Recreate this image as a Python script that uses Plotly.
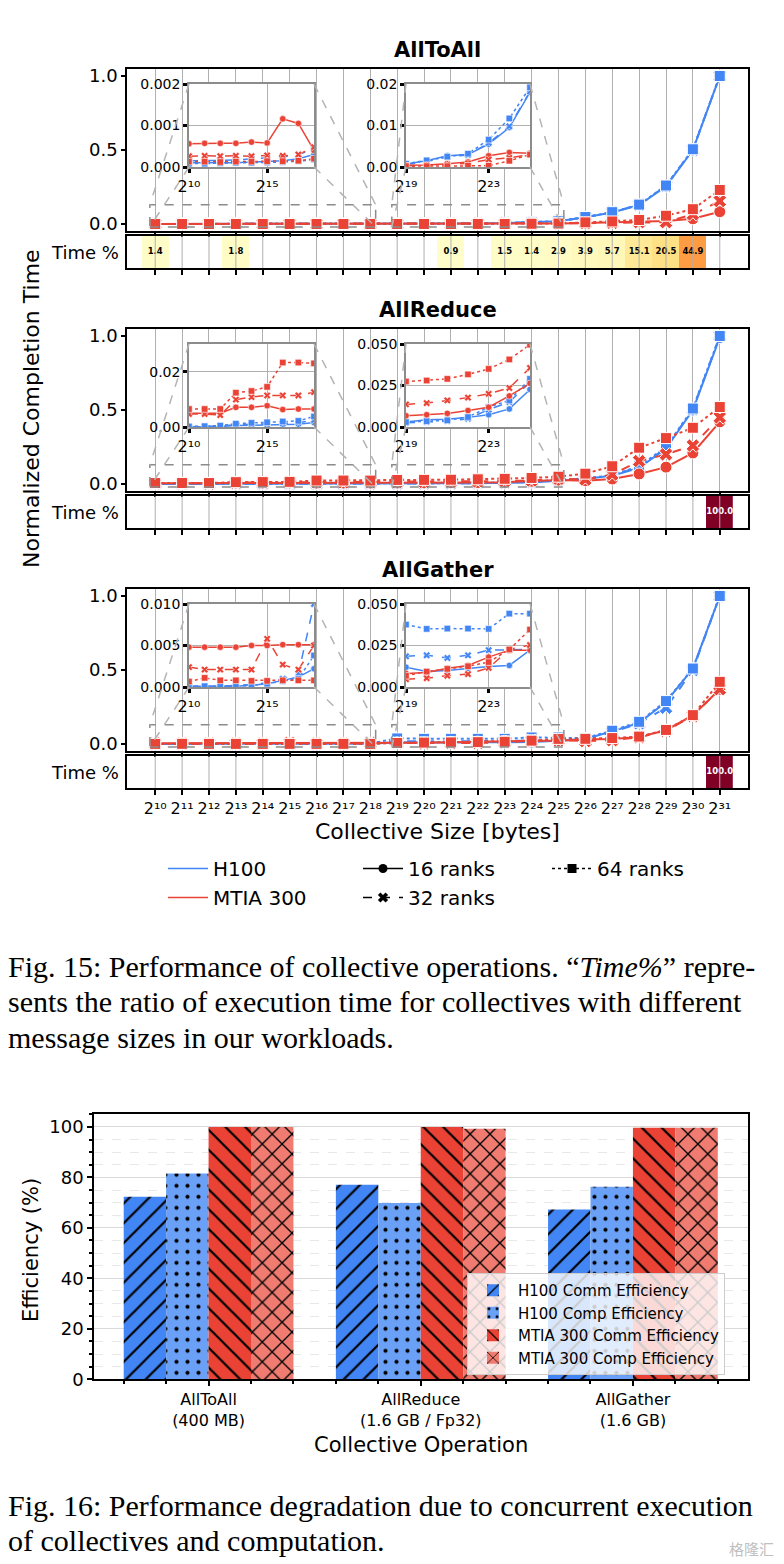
import plotly.graph_objects as go

W, H = 784, 1564
OFF = 8  # the page body adds an 8px margin around the figure
BLUE = "#4285F4"
RED = "#EA4335"
FONT = "DejaVu Sans"
SERIF = "Liberation Serif"

# collective sizes, as powers of two (2^10 .. 2^31)
sizes = [10, 11, 12, 13, 14, 15, 16, 17, 18, 19, 20, 21, 22, 23, 24, 25, 26, 27, 28, 29, 30, 31]
SUP = str.maketrans("0123456789", "⁰¹²³⁴⁵⁶⁷⁸⁹")


def pow2(e):
    return "2" + str(e).translate(SUP)


size_labels = [pow2(s) for s in sizes]

# AllToAll, normalized completion time
a2a_h100_16 = [0.0001, 0.0001, 0.0001, 0.0001, 0.00012, 0.00013, 0.00015, 0.0002, 0.0003, 0.0007, 0.0015,
               0.0027, 0.003, 0.0055, 0.0095, 0.018, 0.045, 0.078, 0.128, 0.255, 0.50, 1.0]
a2a_h100_32 = [0.00015, 0.00015, 0.00016, 0.00017, 0.0002, 0.00022, 0.00025, 0.0003, 0.00044, 0.0006, 0.0013,
               0.0024, 0.0029, 0.0058, 0.0098, 0.0182, 0.046, 0.079, 0.13, 0.258, 0.502, 1.0]
a2a_h100_64 = [0.00008, 0.00008, 0.00009, 0.0001, 0.0001, 0.00011, 0.00012, 0.00014, 0.00018, 0.0008, 0.0016,
               0.0025, 0.0032, 0.0066, 0.0117, 0.0192, 0.047, 0.08, 0.131, 0.26, 0.505, 1.0]
a2a_mtia_16 = [0.00056, 0.00057, 0.00057, 0.00057, 0.0006, 0.00058, 0.00116, 0.00105, 0.0004, 0.0004, 0.0005,
               0.0008, 0.0012, 0.0027, 0.0035, 0.0033, 0.006, 0.01, 0.015, 0.02, 0.035, 0.083]
a2a_mtia_32 = [0.00026, 0.00027, 0.00026, 0.00027, 0.00026, 0.00028, 0.00027, 0.0003, 0.00048, 0.0003, 0.0004,
               0.0006, 0.0009, 0.0018, 0.0022, 0.003, 0.005, 0.008, 0.012, 0.012, 0.065, 0.155]
a2a_mtia_64 = [0.00013, 0.00013, 0.00012, 0.00013, 0.00013, 0.00014, 0.00014, 0.00015, 0.0002, 0.0002, 0.0002,
               0.0002, 0.0003, 0.0003, 0.0015, 0.003, 0.011, 0.017, 0.027, 0.056, 0.10, 0.23]
a2a_time = [1.4, 0, 0, 1.8, 0, 0, 0, 0, 0, 0, 0, 0.9, 0, 1.5, 1.4, 2.9, 3.9, 5.7, 15.1, 20.5, 44.9, 0]

# AllReduce
ar_h100_16 = [0.0001, 0.0001, 0.0002, 0.0005, 0.0006, 0.0007, 0.0009, 0.001, 0.0016, 0.003, 0.0043,
              0.0047, 0.0058, 0.0074, 0.0109, 0.0226, 0.035, 0.055, 0.11, 0.24, 0.50, 0.99]
ar_h100_32 = [0.0001, 0.0002, 0.0004, 0.0008, 0.001, 0.0011, 0.0013, 0.0015, 0.0025, 0.0025, 0.003,
              0.0035, 0.005, 0.0105, 0.015, 0.027, 0.036, 0.058, 0.115, 0.245, 0.505, 1.0]
ar_h100_64 = [0.0002, 0.0003, 0.0005, 0.0012, 0.0015, 0.0017, 0.002, 0.0022, 0.0038, 0.003, 0.0035,
              0.004, 0.006, 0.012, 0.016, 0.029, 0.037, 0.06, 0.12, 0.25, 0.51, 1.0]
ar_mtia_16 = [0.005, 0.005, 0.005, 0.0071, 0.0071, 0.0077, 0.0063, 0.0065, 0.0065, 0.0068, 0.0074,
              0.0082, 0.0099, 0.0119, 0.0187, 0.0263, 0.022, 0.034, 0.068, 0.114, 0.21, 0.42]
ar_mtia_32 = [0.0047, 0.0047, 0.0043, 0.0099, 0.0108, 0.0114, 0.0114, 0.0114, 0.0126, 0.0136, 0.0144,
              0.016, 0.0177, 0.02, 0.0235, 0.0356, 0.03, 0.064, 0.155, 0.2, 0.26, 0.45]
ar_mtia_64 = [0.0065, 0.0065, 0.0065, 0.0124, 0.013, 0.0145, 0.0233, 0.0233, 0.023, 0.0274, 0.028,
              0.029, 0.0317, 0.035, 0.0407, 0.0496, 0.07, 0.12, 0.245, 0.31, 0.38, 0.52]
ar_time = [0, 0, 0, 0, 0, 0, 0, 0, 0, 0, 0, 0, 0, 0, 0, 0, 0, 0, 0, 0, 0, 100.0]

# AllGather
ag_h100_16 = [0.0001, 0.0001, 0.0001, 0.0001, 0.0002, 0.0004, 0.0008, 0.0012, 0.0022, 0.0119, 0.0093,
              0.0099, 0.0113, 0.0123, 0.013, 0.0222, 0.034, 0.086, 0.143, 0.284, 0.51, 1.0]
ag_h100_32 = [0.0001, 0.0001, 0.0001, 0.0002, 0.0003, 0.0005, 0.001, 0.0016, 0.01, 0.0185, 0.0191,
              0.0175, 0.0191, 0.0222, 0.0222, 0.0226, 0.033, 0.08, 0.14, 0.245, 0.50, 1.0]
ag_h100_64 = [0.0001, 0.0001, 0.0001, 0.0001, 0.0002, 0.0004, 0.0007, 0.001, 0.0038, 0.0376, 0.035,
              0.0352, 0.0352, 0.035, 0.0442, 0.0442, 0.04, 0.09, 0.15, 0.29, 0.51, 1.0]
ag_mtia_16 = [0.0048, 0.0048, 0.0048, 0.0048, 0.005, 0.005, 0.0051, 0.0051, 0.0051, 0.0082, 0.0088,
              0.0113, 0.013, 0.018, 0.0222, 0.0222, 0.03, 0.034, 0.048, 0.093, 0.193, 0.37]
ag_mtia_32 = [0.0024, 0.0021, 0.0021, 0.0021, 0.0021, 0.0058, 0.0027, 0.0021, 0.005, 0.0047, 0.0053,
              0.0068, 0.0078, 0.0115, 0.0226, 0.0253, 0.02, 0.025, 0.045, 0.09, 0.19, 0.37]
ag_mtia_64 = [0.00066, 0.0011, 0.0008, 0.0008, 0.00074, 0.00074, 0.0008, 0.0008, 0.0008, 0.0068, 0.0093,
              0.0109, 0.0125, 0.015, 0.0226, 0.0346, 0.035, 0.04, 0.05, 0.095, 0.195, 0.42]
ag_time = [0, 0, 0, 0, 0, 0, 0, 0, 0, 0, 0, 0, 0, 0, 0, 0, 0, 0, 0, 0, 0, 100.0]

# Fig. 16 bars
operations = ["AllToAll<br>(400 MB)", "AllReduce<br>(1.6 GB / Fp32)", "AllGather<br>(1.6 GB)"]
h100_comm = [72.3, 77.1, 67.3]
h100_comp = [81.5, 69.9, 76.3]
mtia_comm = [100.0, 100.0, 99.7]
mtia_comp = [100.0, 99.3, 99.7]

YLORRD = [[0, "#ffffcc"], [0.125, "#ffeda0"], [0.25, "#fed976"], [0.375, "#feb24c"], [0.5, "#fd8d3c"],
          [0.625, "#fc4e2a"], [0.75, "#e31a1c"], [0.875, "#bd0026"], [1, "#800026"]]
DASH = {16: "solid", 32: "dash", 64: "dot"}
SYMBOL = {16: "circle", 32: "x", 64: "square"}
MSIZE = {16: 12, 32: 12, 64: 11}


def fx(px):
    return (px - OFF) / W


def fy(py):
    return 1 - (py - OFF) / H


def sid(n):
    return "" if n == 1 else str(n)


def to_paper(v, rng, dom):
    return dom[0] + (v - rng[0]) / (rng[1] - rng[0]) * (dom[1] - dom[0])


panels = [
    dict(name="AllToAll", time=a2a_time,
         series=[(BLUE, 16, a2a_h100_16), (BLUE, 32, a2a_h100_32), (BLUE, 64, a2a_h100_64),
                 (RED, 16, a2a_mtia_16), (RED, 32, a2a_mtia_32), (RED, 64, a2a_mtia_64)],
         left=dict(rng=[0, 0.002], ticks=[0, 0.001, 0.002], fmt=".3f"),
         right=dict(rng=[0, 0.02], ticks=[0, 0.01, 0.02], fmt=".2f")),
    dict(name="AllReduce", time=ar_time,
         series=[(BLUE, 16, ar_h100_16), (BLUE, 32, ar_h100_32), (BLUE, 64, ar_h100_64),
                 (RED, 16, ar_mtia_16), (RED, 32, ar_mtia_32), (RED, 64, ar_mtia_64)],
         left=dict(rng=[0, 0.03], ticks=[0, 0.02], fmt=".2f"),
         right=dict(rng=[0, 0.05], ticks=[0, 0.025, 0.05], fmt=".3f")),
    dict(name="AllGather", time=ag_time,
         series=[(BLUE, 16, ag_h100_16), (BLUE, 32, ag_h100_32), (BLUE, 64, ag_h100_64),
                 (RED, 16, ag_mtia_16), (RED, 32, ag_mtia_32), (RED, 64, ag_mtia_64)],
         left=dict(rng=[0, 0.01], ticks=[0, 0.005, 0.01], fmt=".3f"),
         right=dict(rng=[0, 0.05], ticks=[0, 0.025, 0.05], fmt=".3f")),
]

fig = go.Figure()
layout = {}
annotations = []
shapes = []

MAIN_XR = [8.95, 32.05]
MAIN_YR = [-0.05, 1.05]
MAIN_XD = [fx(127), fx(748)]
tick_font = dict(family=FONT, size=18, color="black")
small_font = dict(family=FONT, size=14, color="black")
sup_font = dict(family=FONT, size=16, color="black")

for p, panel in enumerate(panels):
    top = 68.6 + 260 * p
    bot = top + 162.8
    s_top, s_bot = bot + 4.6, bot + 36.6
    i_top, i_bot = top + 15.4, top + 98.4
    n_main, n_strip, n_il, n_ir = 4 * p + 1, 4 * p + 2, 4 * p + 3, 4 * p + 4

    # main panel
    layout["xaxis" + sid(n_main)] = dict(
        domain=MAIN_XD, range=MAIN_XR, anchor="y" + sid(n_main), tickvals=sizes, showticklabels=False,
        ticks="outside", ticklen=4, tickwidth=1.5, tickcolor="black", showgrid=True, gridcolor="#b0b0b0",
        gridwidth=1, showline=True, linecolor="black", linewidth=1.5, mirror=True, zeroline=False,
        automargin=False)
    layout["yaxis" + sid(n_main)] = dict(
        domain=[fy(bot), fy(top)], range=MAIN_YR, anchor="x" + sid(n_main), tickvals=[0, 0.5, 1.0],
        tickformat=".1f", ticks="outside", ticklen=4, tickwidth=1.5, tickcolor="black", tickfont=tick_font,
        showgrid=False, showline=True, linecolor="black", linewidth=1.5, mirror=True, zeroline=False,
        automargin=False)
    for color, ranks, vals in panel["series"]:
        fig.add_trace(go.Scatter(
            x=sizes, y=vals, xaxis="x" + sid(n_main), yaxis="y" + sid(n_main), mode="lines+markers",
            line=dict(color=color, width=2, dash=DASH[ranks]),
            marker=dict(symbol=SYMBOL[ranks], size=MSIZE[ranks], color=color,
                        line=dict(color="white", width=1)),
            showlegend=False, hoverinfo="skip"))

    # Time % strip
    last = p == len(panels) - 1
    layout["xaxis" + sid(n_strip)] = dict(
        domain=MAIN_XD, range=MAIN_XR, anchor="y" + sid(n_strip), tickvals=sizes, ticktext=size_labels,
        showticklabels=last, tickangle=0, tickfont=sup_font, ticks="outside", ticklen=5, tickwidth=1.5,
        tickcolor="black", showgrid=False, showline=True, linecolor="black", linewidth=1.5, mirror=True,
        zeroline=False, automargin=False)
    layout["yaxis" + sid(n_strip)] = dict(
        domain=[fy(s_bot), fy(s_top)], range=[-0.5, 0.5], anchor="x" + sid(n_strip), showticklabels=False,
        ticks="", showgrid=False, showline=True, linecolor="black", linewidth=1.5, mirror=True, zeroline=False,
        automargin=False)
    fig.add_trace(go.Heatmap(
        x=sizes, y=[0], z=[[v if v else None for v in panel["time"]]], colorscale=YLORRD, zmin=0, zmax=100,
        showscale=False, xaxis="x" + sid(n_strip), yaxis="y" + sid(n_strip), hoverinfo="skip"))
    shown = [(s, v) for s, v in zip(sizes, panel["time"]) if v]
    fig.add_trace(go.Scatter(
        x=[s for s, v in shown], y=[0] * len(shown), mode="text",
        text=["<b>%.1f</b>" % v for s, v in shown],
        textfont=dict(family=FONT, size=8.5, color=["white" if v > 60 else "black" for s, v in shown]),
        xaxis="x" + sid(n_strip), yaxis="y" + sid(n_strip), showlegend=False, hoverinfo="skip"))
    for s in sizes:
        shapes.append(dict(type="line", xref="x" + sid(n_strip), yref="y" + sid(n_strip) + " domain",
                           x0=s, x1=s, y0=0, y1=1, layer="above", line=dict(color="#b0b0b0", width=1)))
    annotations.append(dict(text="Time %", x=fx(121), y=fy((s_top + s_bot) / 2), xref="paper", yref="paper",
                            xanchor="right", yanchor="middle", showarrow=False, font=tick_font))
    annotations.append(dict(text="<b>%s</b>" % panel["name"], x=fx(437.5), y=fy(50 + 260 * p), xref="paper",
                            yref="paper", xanchor="center", yanchor="middle", showarrow=False,
                            font=dict(family=FONT, size=21, color="black")))

    # zoomed insets
    for n, side, lo, hi, xt, box_x, rect_x in [
            (n_il, "left", 0, 9, [10, 15], [189, 314], [9.8, 18.2]),
            (n_ir, "right", 9, 16, [19, 23], [406, 530], [18.8, 25.2])]:
        cfg = panel[side]
        xs = sizes[lo:hi]
        xd = [fx(box_x[0]), fx(box_x[1])]
        yd = [fy(i_bot), fy(i_top)]
        layout["xaxis" + sid(n)] = dict(
            domain=xd, range=[xs[0], xs[-1]], anchor="y" + sid(n), tickvals=xt,
            ticktext=[pow2(t) for t in xt], tickangle=0, tickfont=sup_font, ticks="outside",
            ticklen=4, tickwidth=2.5, tickcolor="black", showgrid=True, gridcolor="#b0b0b0", gridwidth=1,
            showline=True, linecolor="#8c8c8c", linewidth=1.5, mirror=True, zeroline=False, automargin=False)
        layout["yaxis" + sid(n)] = dict(
            domain=yd, range=cfg["rng"], anchor="x" + sid(n), tickvals=cfg["ticks"], tickformat=cfg["fmt"],
            tickfont=small_font, ticks="outside", ticklen=4, tickwidth=2.5, tickcolor="black", showgrid=True,
            gridcolor="#b0b0b0", gridwidth=1, showline=True, linecolor="#8c8c8c", linewidth=1.5, mirror=True,
            zeroline=False, automargin=False)
        for color, ranks, vals in panel["series"]:
            fig.add_trace(go.Scatter(
                x=xs, y=vals[lo:hi], xaxis="x" + sid(n), yaxis="y" + sid(n), mode="lines+markers",
                line=dict(color=color, width=1.5, dash=DASH[ranks]),
                marker=dict(symbol=SYMBOL[ranks], size=6.5, color=color, line=dict(color="white", width=0.6)),
                showlegend=False, hoverinfo="skip"))

        # dashed zoom rectangle in the main panel and its connectors
        rect_y = [-0.02, 0.13]
        shapes.append(dict(type="rect", xref="x" + sid(n_main), yref="y" + sid(n_main),
                           x0=rect_x[0], x1=rect_x[1], y0=rect_y[0], y1=rect_y[1], layer="above",
                           line=dict(color="#8c8c8c", width=1.5, dash="dash")))
        rx = [to_paper(v, MAIN_XR, MAIN_XD) for v in rect_x]
        ry = [to_paper(v, MAIN_YR, [fy(bot), fy(top)]) for v in rect_y]
        for cx, cy, tx, ty in [(xd[0], yd[1], rx[0], ry[1]), (xd[0], yd[0], rx[0], ry[0]),
                               (xd[1], yd[1], rx[1], ry[1]), (xd[1], yd[0], rx[1], ry[0])]:
            shapes.append(dict(type="line", xref="paper", yref="paper", x0=cx, y0=cy, x1=tx, y1=ty,
                               layer="above", line=dict(color="#b4b4b4", width=1.5, dash="dash")))

# legends for Fig. 15
legend_items = [
    ("H100", BLUE, "solid", None, "legend"),
    ("MTIA 300", RED, "solid", None, "legend"),
    ("16 ranks", "black", "solid", "circle", "legend2"),
    ("32 ranks", "black", "dash", "x", "legend2"),
    ("64 ranks", "black", "dot", "square", "legend3"),
]
for name, color, dash, sym, leg in legend_items:
    fig.add_trace(go.Scatter(
        x=[None], y=[None], name=name, mode="lines" if sym is None else "lines+markers",
        line=dict(color=color, width=1.5, dash=dash),
        marker=dict(symbol=sym or "circle", size=9, color=color), legend=leg, showlegend=True))

legend_font = dict(family=FONT, size=20, color="black")
for key, xpx in [("legend", 163), ("legend2", 358), ("legend3", 547)]:
    layout[key] = dict(x=fx(xpx), y=fy(849), xanchor="left", yanchor="top", font=legend_font,
                       bgcolor="rgba(0,0,0,0)", itemwidth=40, tracegroupgap=0)

annotations.append(dict(text="Normalized Completion Time", x=fx(31), y=fy(409), xref="paper", yref="paper",
                        textangle=-90, showarrow=False, xanchor="center", yanchor="middle",
                        font=dict(family=FONT, size=22, color="black")))
annotations.append(dict(text="Collective Size [bytes]", x=fx(437.5), y=fy(832), xref="paper", yref="paper",
                        showarrow=False, xanchor="center", yanchor="middle",
                        font=dict(family=FONT, size=22, color="black")))

# Fig. 16 bar chart
nb = 13
bar_specs = [
    ("H100 Comm Efficiency", h100_comm, "#4285F4", "/", 14, 0.16),
    ("H100 Comp Efficiency", h100_comp, "#6AA0F6", ".", 11, 0.11),
    ("MTIA 300 Comm Efficiency", mtia_comm, "#EA4335", "\\", 14, 0.16),
    ("MTIA 300 Comp Efficiency", mtia_comp, "#F07C71", "x", 14, 0.18),
]
for name, vals, color, shape, size, sol in bar_specs:
    fig.add_trace(go.Bar(
        x=[0, 1, 2], y=vals, name=name, xaxis="x" + sid(nb), yaxis="y" + sid(nb), legend="legend4",
        marker=dict(color=color, line=dict(width=0),
                    pattern=dict(shape=shape, fgcolor="black", fgopacity=1, size=size, solidity=sol,
                                 fillmode="overlay")),
        hoverinfo="skip"))

layout["xaxis" + sid(nb)] = dict(
    domain=[fx(94), fx(747.5)], range=[-0.54, 2.54], anchor="y" + sid(nb), tickvals=[0, 1, 2],
    ticktext=operations, tickfont=dict(family=FONT, size=16, color="black"), ticks="outside", ticklen=5,
    tickwidth=1.5, tickcolor="black", showgrid=False, showline=True, linecolor="black", linewidth=1.5,
    mirror=True, zeroline=False, automargin=False,
    minor=dict(tick0=0, dtick=0.2, ticks="outside", ticklen=3, tickcolor="black", showgrid=False))
layout["yaxis" + sid(nb)] = dict(
    domain=[fy(1379.3), fy(1114.3)], range=[0, 105], anchor="x" + sid(nb), dtick=20,
    tickfont=tick_font, ticks="outside", ticklen=5, tickwidth=1.5, tickcolor="black", showgrid=True,
    gridcolor="#d9d9d9", gridwidth=1.2, showline=True, linecolor="black", linewidth=1.5, mirror=True,
    zeroline=False, automargin=False,
    minor=dict(dtick=5, ticks="outside", ticklen=3, tickcolor="black", showgrid=True, gridcolor="#e8e8e8",
               griddash="dash", gridwidth=1))
layout["legend4"] = dict(x=fx(467), y=fy(1273), xanchor="left", yanchor="top",
                         font=dict(family=FONT, size=15, color="black"), bgcolor="rgba(255,255,255,0.8)",
                         bordercolor="#cccccc", borderwidth=1, tracegroupgap=0, itemwidth=40)

annotations.append(dict(text="Efficiency (%)", x=fx(31), y=fy(1250), xref="paper", yref="paper",
                        textangle=-90, showarrow=False, xanchor="center", yanchor="middle",
                        font=dict(family=FONT, size=21, color="black")))
annotations.append(dict(text="Collective Operation", x=fx(421), y=fy(1445), xref="paper", yref="paper",
                        showarrow=False, xanchor="center", yanchor="middle",
                        font=dict(family=FONT, size=21, color="black")))

# captions
caption_lines = [
    ("Fig. 15: Performance of collective operations. \u201c<i>Time%</i>\u201d repre-", 966),
    ("sents the ratio of execution time for collectives with different", 1001),
    ("message sizes in our workloads.", 1037),
    ("Fig. 16: Performance degradation due to concurrent execution", 1505),
    ("of collectives and computation.", 1540),
]
for text, ypx in caption_lines:
    annotations.append(dict(text=text, x=fx(6), y=fy(ypx), xref="paper", yref="paper", showarrow=False,
                            xanchor="left", yanchor="middle", font=dict(family=SERIF, size=30, color="black")))
annotations.append(dict(text="格隆汇", x=fx(776), y=fy(1548), xref="paper", yref="paper", showarrow=False,
                        xanchor="right", yanchor="middle",
                        font=dict(family="Noto Sans CJK SC", size=15, color="#c0c0c0")))

fig.update_layout(
    template="none", width=W, height=H, autosize=False, margin=dict(l=0, r=0, t=0, b=0, pad=0),
    paper_bgcolor="white", plot_bgcolor="white", barmode="group", bargap=0.2, bargroupgap=0,
    font=dict(family=FONT, color="black"), annotations=annotations, shapes=shapes, **layout)

fig.write_html("out.html")
